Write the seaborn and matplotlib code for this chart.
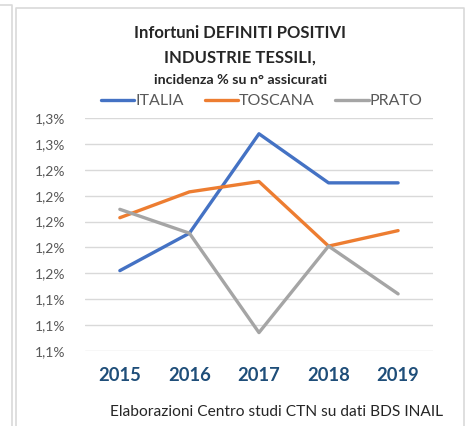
import numpy as np
import pandas as pd
import seaborn as sns
import matplotlib.pyplot as plt
from matplotlib.lines import Line2D
from matplotlib.ticker import FuncFormatter

# dati (incidenza % su n° assicurati)
anni = ['2015', '2016', '2017', '2018', '2019']
italia = [1.162, 1.191, 1.268, 1.230, 1.230]
toscana = [1.203, 1.223, 1.231, 1.181, 1.193]
prato = [1.2095, 1.191, 1.114, 1.181, 1.144]
serie = ['ITALIA', 'TOSCANA', 'PRATO']
colori = ['#4472C4', '#ED7D31', '#A5A5A5']
y_ticks = [1.10, 1.12, 1.14, 1.16, 1.18, 1.20, 1.22, 1.24, 1.26, 1.28]

sns.set_style('white')
plt.rcParams['font.family'] = ['Lato', 'DejaVu Sans']

df = pd.DataFrame({'anno': anni * 3,
                   'valore': italia + toscana + prato,
                   'serie': np.repeat(serie, len(anni))})

fig = plt.figure(figsize=(4.7, 4.26), dpi=100)
ax = fig.add_axes([0.181, 0.1768, 0.740, 0.5455])

sns.lineplot(data=df, x='anno', y='valore', hue='serie', hue_order=serie,
             palette=colori, linewidth=2.4, sort=False, ax=ax, legend=False)

ax.set_xlim(-0.5, 4.5)
ax.set_ylim(1.10, 1.28)
ax.set_yticks(y_ticks)
ax.yaxis.set_major_formatter(FuncFormatter(lambda v, p: f'{v:.1f}'.replace('.', ',') + '%'))
ax.grid(axis='y', color='#D9D9D9', linewidth=1)
ax.set_axisbelow(True)
for s in ax.spines.values():
    s.set_visible(False)
ax.tick_params(axis='y', length=0, pad=14, labelsize=10, labelcolor='#595959')
ax.tick_params(axis='x', length=0, pad=12, labelsize=13.2)
for lab in ax.get_xticklabels():
    lab.set_fontweight('bold')
    lab.set_color('#1F4E79')
ax.set_xlabel('')
ax.set_ylabel('')

# titolo
fig.text(0.511, 0.923, 'Infortuni DEFINITI POSITIVI', ha='center', va='center',
         fontsize=12, fontweight='bold', color='#262626')
fig.text(0.511, 0.866, 'INDUSTRIE TESSILI,', ha='center', va='center',
         fontsize=12, fontweight='bold', color='#262626')
fig.text(0.511, 0.812, 'incidenza % su n° assicurati', ha='center', va='center',
         fontsize=10.3, fontweight='bold', color='#262626')

# legenda
handles = [Line2D([], [], color=c, linewidth=2.4) for c in colori]
fig.legend(handles, serie, loc='center', bbox_to_anchor=(0.557, 0.762), ncol=3,
           frameon=False, fontsize=11.5, handlelength=2.1, handletextpad=0.05,
           columnspacing=1.3, labelcolor='#595959')

# fonte
fig.text(0.234, 0.033, 'Elaborazioni Centro studi CTN su dati BDS INAIL',
         ha='left', va='center', fontsize=11.2, color='#262626')

# cornici
fig.add_artist(Line2D([15.5 / 470, 15.5 / 470, 463.5 / 470, 463.5 / 470],
                      [0, 1 - 8 / 426, 1 - 8 / 426, 0], color='#D9D9D9', linewidth=1.2))
fig.add_artist(Line2D([0, 12 / 470, 12 / 470], [1 - 5 / 426, 1 - 5 / 426, 0],
                      color='#D9D9D9', linewidth=1.2))

fig.savefig('out.png', dpi=100)
